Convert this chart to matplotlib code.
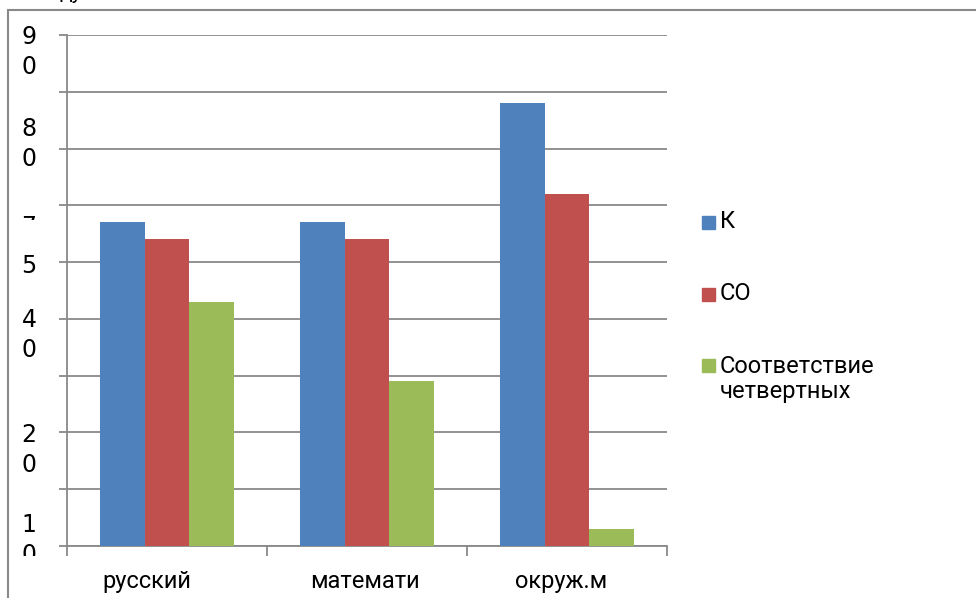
import matplotlib.pyplot as plt
from matplotlib.patches import Rectangle
from matplotlib.transforms import Bbox, TransformedBbox

# данные
categories = ['русский', 'математи', 'окруж.м']
series_names = ['К', 'СО', 'Соответствие\nчетвертных']
k_values = [57, 57, 78]
co_values = [54, 54, 62]
match_values = [43, 29, 3]

# подписи оси Y (как на картинке, частично обрезаны)
y_labels = ['9\n0', '8\n0', '7', '5', '4\n0', '2\n0', '1\n0']

colors = ['#4F81BD', '#C0504D', '#9BBB59']
grid_color = '#898989'

W, H = 976, 598
fig = plt.figure(figsize=(W / 100, H / 100), dpi=100)
plt.rcParams['font.family'] = ['Roboto', 'DejaVu Sans']


def fx(px):
    return px / W


def fy(py):
    return 1 - py / H


ax = fig.add_axes([fx(67), fy(546), fx(667) - fx(67), fy(35) - fy(546)])

series = [k_values, co_values, match_values]
bw = 0.222
for i, vals in enumerate(series):
    xs = [c + (i - 1) * bw for c in range(len(categories))]
    ax.bar(xs, vals, width=bw, color=colors[i], zorder=3)

ax.set_xlim(-0.5, len(categories) - 0.5)
ax.set_ylim(0, 90)
ax.set_yticks(range(0, 91, 10))
ax.set_yticklabels([])
ax.set_xticks([-0.5, 0.5, 1.5, 2.5])
ax.set_xticklabels([])
ax.yaxis.grid(True, color=grid_color, linewidth=1.3, zorder=0)
ax.tick_params(axis='y', length=6, width=1.3, color=grid_color, direction='out')
ax.tick_params(axis='x', length=7, width=1.3, color=grid_color, direction='out')
for s in ['top', 'right']:
    ax.spines[s].set_visible(False)
for s in ['left', 'bottom']:
    ax.spines[s].set_color(grid_color)
    ax.spines[s].set_linewidth(1.3)

# подписи категорий
cat_x = [147, 365, 561]
for lab, x in zip(categories, cat_x):
    fig.text(fx(x), fy(588), lab, ha='center', va='baseline', fontsize=17)

# подписи оси Y с обрезкой
y_pos = [52, 144, 227, 266, 335, 450, 540]
y_clip = [None, None, 220, None, None, None, 556]
for lab, y, c in zip(y_labels, y_pos, y_clip):
    t = fig.text(fx(29), fy(y), lab, ha='center', va='center', fontsize=17,
                 family=['DejaVu Sans'], linespacing=1.35)
    if c is not None:
        t.set_clip_box(TransformedBbox(Bbox.from_extents(0, fy(c), 1, 1), fig.transFigure))
        t.set_clip_on(True)

# легенда
leg_y = [222, 294, 379]
sq_y = [222, 294, 365]
for name, col, ty, sy in zip(series_names, colors, leg_y, sq_y):
    fig.patches.append(Rectangle((fx(702), fy(sy + 6.5)), fx(13), 13 / H,
                                 transform=fig.transFigure, color=col))
    fig.text(fx(720), fy(ty), name, ha='left', va='center', fontsize=17, linespacing=1.15)

# рамка области диаграммы
fig.patches.append(Rectangle((fx(8), fy(1000)), fx(2000), 990 / H, transform=fig.transFigure,
                             fill=False, edgecolor=grid_color, linewidth=1.5))
fig.text(fx(60), 1 + 1 / H, 'ду', ha='left', va='baseline', fontsize=15)

plt.savefig('out.png', dpi=100)
